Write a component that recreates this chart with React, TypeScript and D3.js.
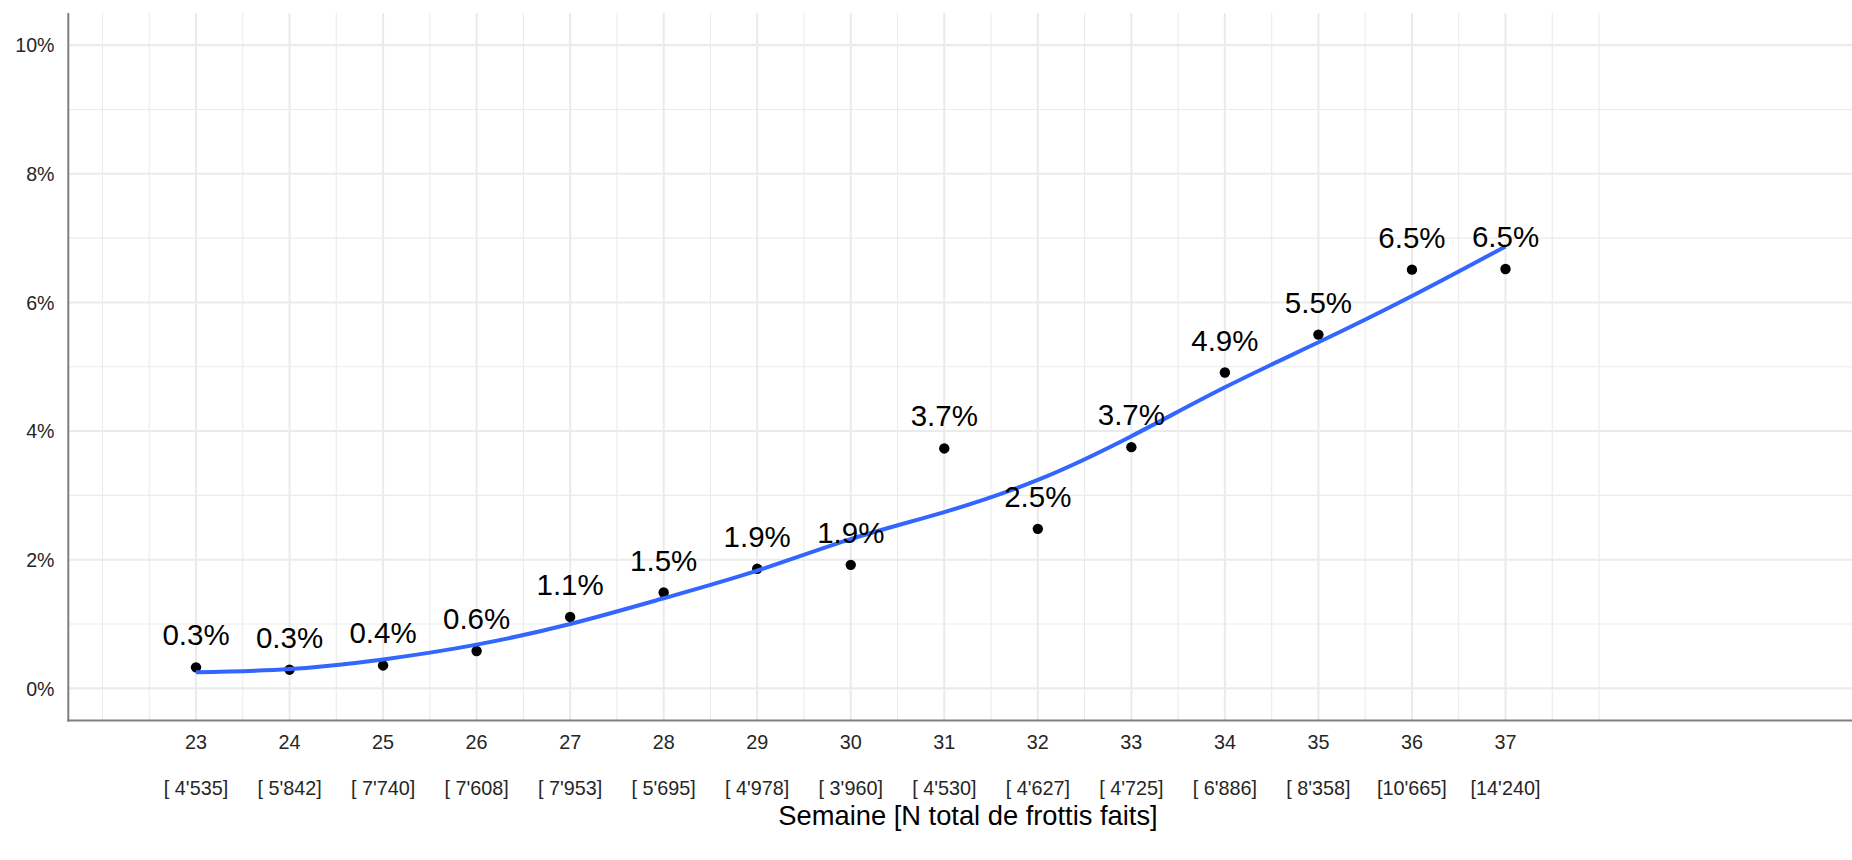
import React from "react";
import * as d3 from "d3";

const weeks = [23, 24, 25, 26, 27, 28, 29, 30, 31, 32, 33, 34, 35, 36, 37];
const positivity = [0.326, 0.29, 0.356, 0.58, 1.11, 1.49, 1.86, 1.92, 3.73, 2.48, 3.75, 4.91, 5.5, 6.51, 6.52];
const valueLabels = ["0.3%", "0.3%", "0.4%", "0.6%", "1.1%", "1.5%", "1.9%", "1.9%", "3.7%", "2.5%", "3.7%", "4.9%", "5.5%", "6.5%", "6.5%"];
const testCounts = ["4'535", "5'842", "7'740", "7'608", "7'953", "5'695", "4'978", "3'960", "4'530", "4'627", "4'725", "6'886", "8'358", "10'665", "14'240"];
const smoothFit = [0.25, 0.3, 0.45, 0.68, 1.0, 1.4, 1.83, 2.32, 2.74, 3.24, 3.92, 4.68, 5.38, 6.1, 6.87];
const yTicks = [0, 2, 4, 6, 8, 10];
const yMinor = [1, 3, 5, 7, 9];
const xGrid = d3.range(22, 38.01, 0.5);
const xTitle = "Semaine [N total de frottis faits]";

const W = 1852;
const H = 860;
const panel = { left: 68.3, right: W, top: 13, bottom: 720.5 };
const FONT = "'Liberation Sans', Arial, sans-serif";

export default function App() {
  const x = d3.scaleLinear().domain([23, 37]).range([196, 1505.5]);
  const y = d3.scaleLinear().domain([-0.5, 10.5]).range([panel.bottom, panel.top]);
  const line = d3
    .line<number>()
    .x((_, i) => x(weeks[i]))
    .y((d) => y(d))
    .curve(d3.curveNatural);

  return (
    <svg
      width={W}
      height={H}
      style={{ position: "absolute", left: 0, top: 0, background: "#fff" }}
      fontFamily={FONT}
    >
      <rect x={0} y={0} width={W} height={H} fill="#fff" />
      {yMinor.map((v) => (
        <line key={"ym" + v} x1={panel.left} x2={panel.right} y1={y(v)} y2={y(v)} stroke="#ebebeb" strokeWidth={1.1} />
      ))}
      {xGrid.map((v) => {
        const major = Number.isInteger(v) && v >= 23 && v <= 37;
        return (
          <line
            key={"xg" + v}
            x1={x(v)}
            x2={x(v)}
            y1={panel.top}
            y2={panel.bottom}
            stroke="#ebebeb"
            strokeWidth={major ? 2.1 : 1.1}
          />
        );
      })}
      {yTicks.map((v) => (
        <line key={"yg" + v} x1={panel.left} x2={panel.right} y1={y(v)} y2={y(v)} stroke="#ebebeb" strokeWidth={2.1} />
      ))}
      <line x1={panel.left} x2={panel.left} y1={panel.top} y2={panel.bottom + 1} stroke="#7f7f7f" strokeWidth={2} />
      <line x1={panel.left - 1} x2={panel.right} y1={panel.bottom} y2={panel.bottom} stroke="#7f7f7f" strokeWidth={2} />
      {yTicks.map((v) => (
        <text key={"yl" + v} x={54.5} y={y(v) + 7.2} textAnchor="end" fontSize={19.6} fill="#262626">
          {v + "%"}
        </text>
      ))}
      {weeks.map((w, i) => (
        <g key={"xl" + w}>
          <text x={x(w)} y={749} textAnchor="middle" fontSize={19.8} fill="#262626">
            {String(w)}
          </text>
          <text x={x(w)} y={795} textAnchor="middle" fontSize={19.8} fill="#262626" style={{ whiteSpace: "pre" }}>
            {"[" + testCounts[i].padStart(6, " ") + "]"}
          </text>
        </g>
      ))}
      <text x={(779 + 1157) / 2} y={825} textAnchor="middle" fontSize={27.3} fill="#000">
        {xTitle}
      </text>
      {weeks.map((w, i) => (
        <circle key={"p" + w} cx={x(w)} cy={y(positivity[i])} r={5.2} fill="#000" />
      ))}
      <path d={line(smoothFit) || ""} fill="none" stroke="#3366FF" strokeWidth={4} />
      {weeks.map((w, i) => (
        <text key={"vl" + w} x={x(w)} y={y(positivity[i]) - 22} textAnchor="middle" fontSize={29.5} fill="#000">
          {valueLabels[i]}
        </text>
      ))}
    </svg>
  );
}
